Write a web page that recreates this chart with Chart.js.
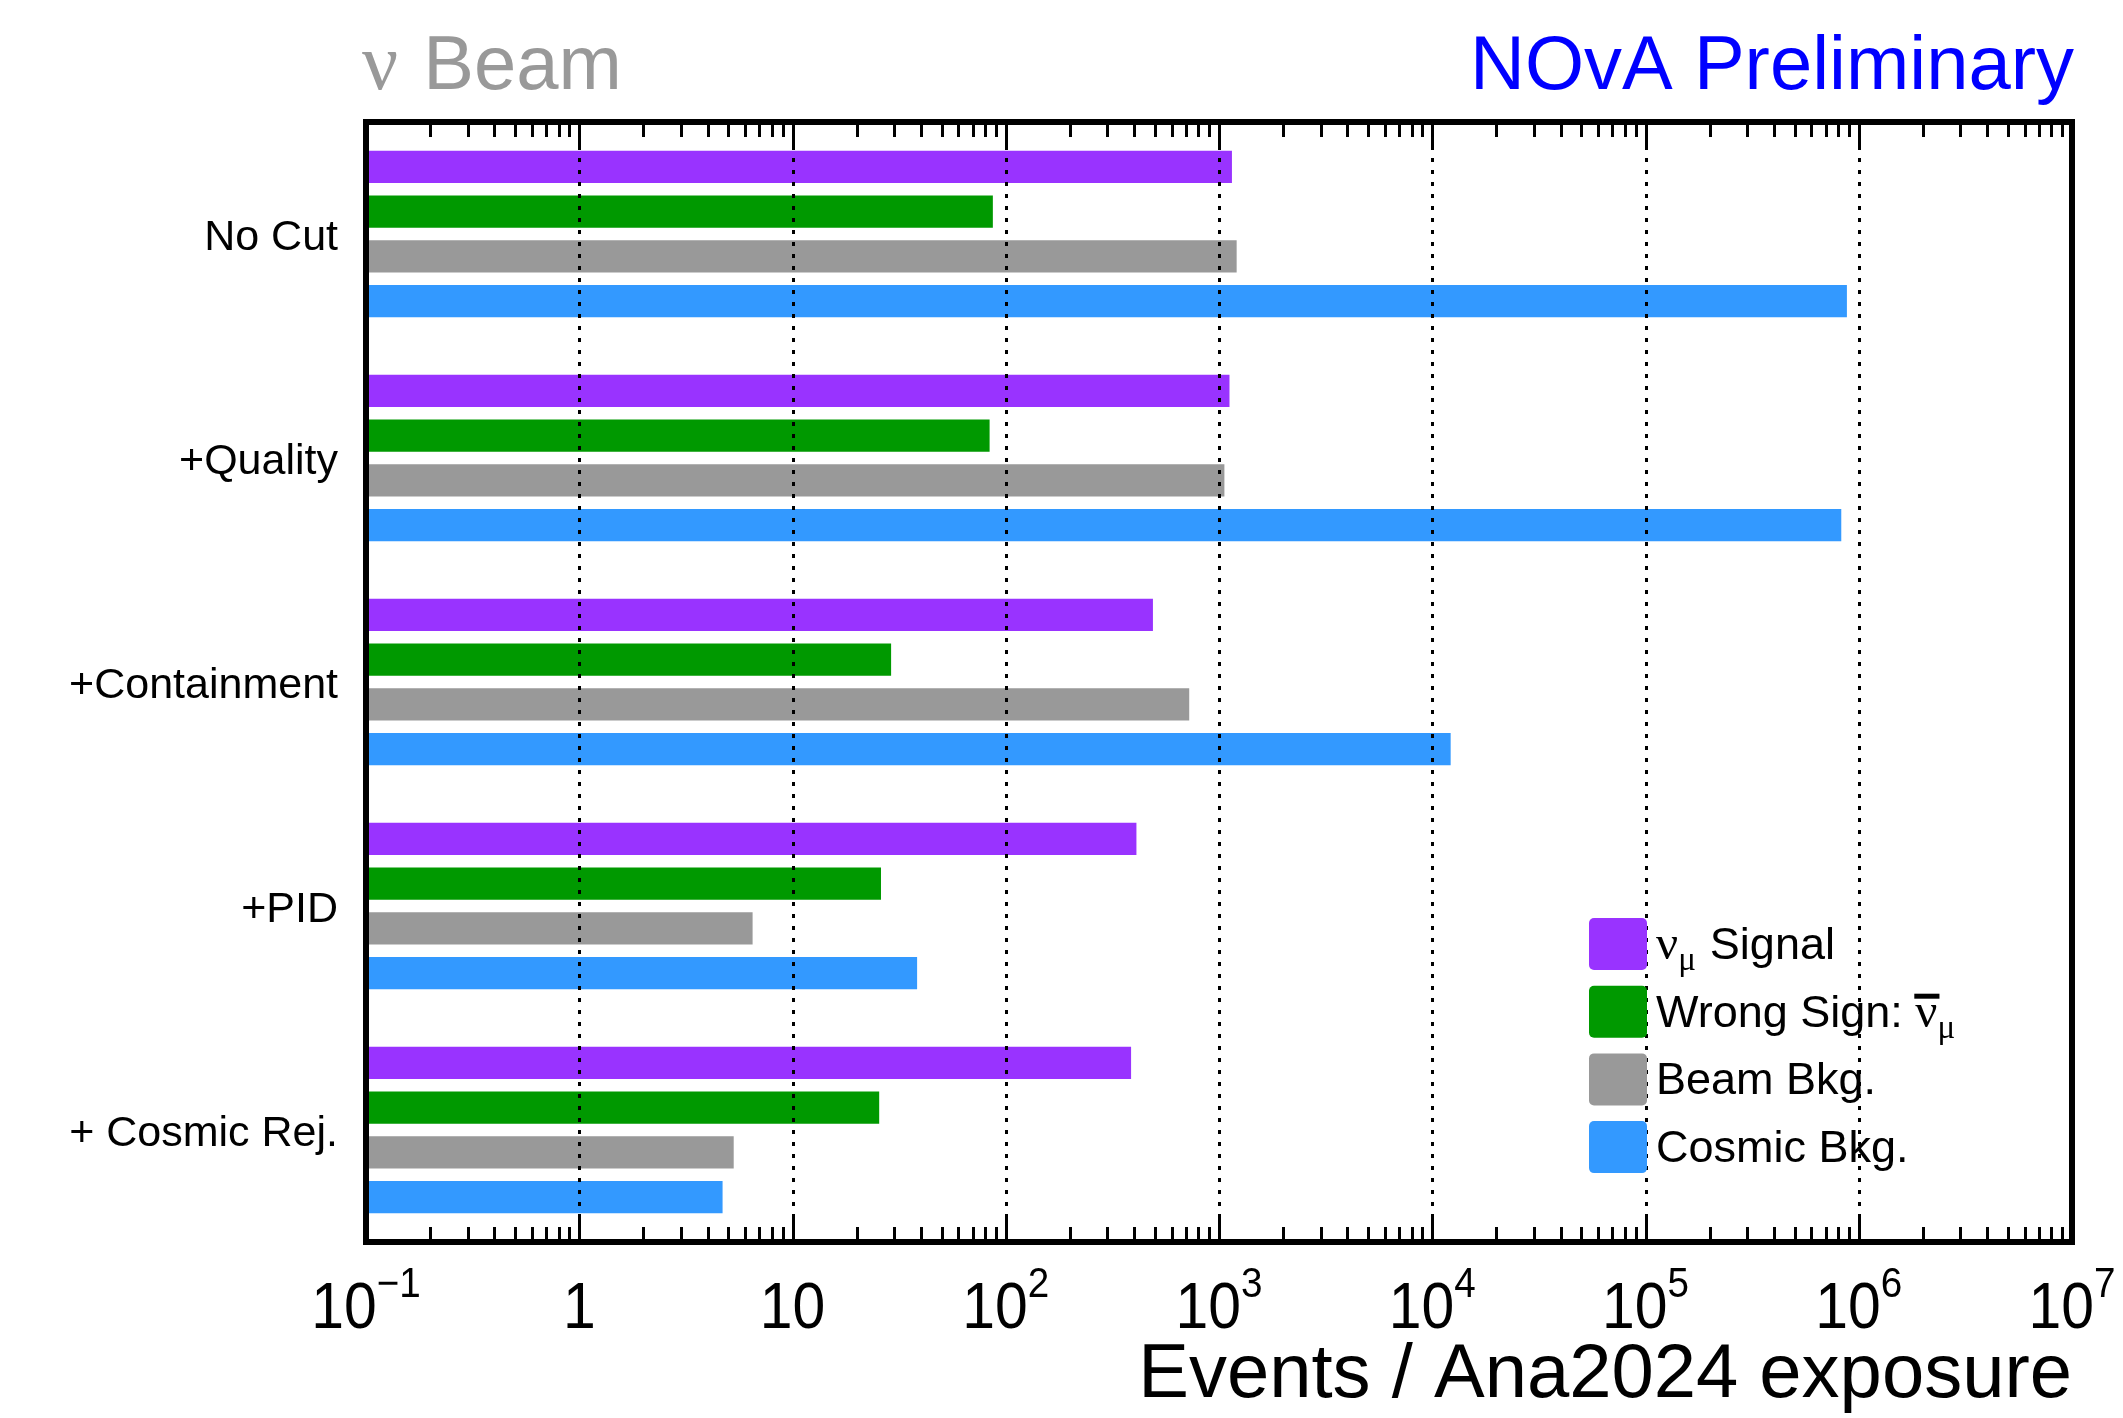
<!DOCTYPE html>
<html>
<head>
<meta charset="utf-8">
<script src="https://cdn.jsdelivr.net/npm/chart.js@4/dist/chart.umd.min.js"></script>
<style>
  html, body { margin: 0; padding: 0; background: #fff; overflow: hidden; }
  canvas { display: block; }
</style>
</head>
<body>
<canvas id="c" width="2123" height="1418" style="width:2123px;height:1418px"></canvas>
<script>
// Selection stages, top to bottom
const categories = ['No Cut', '+Quality', '+Containment', '+PID', '+ Cosmic Rej.'];

// Event counts per stage
const signalNumu = [1150, 1120, 490, 410, 387];
const wrongSign  = [87, 84, 29, 26, 25.5];
const beamBkg    = [1210, 1060, 725, 6.5, 5.3];
const cosmicBkg  = [880000, 828000, 12200, 38.4, 4.7];

// Decade tick labels: [mantissa text, exponent text or '']
const tickValues = [0.1, 1, 10, 100, 1e3, 1e4, 1e5, 1e6, 1e7];
const tickLabels = [['10', '\u22121'], ['1', ''], ['10', ''], ['10', '2'], ['10', '3'],
                    ['10', '4'], ['10', '5'], ['10', '6'], ['10', '7']];
const gridValues = [1, 10, 100, 1e3, 1e4, 1e5, 1e6];

const seriesColors = ['#9933ff', '#009900', '#999999', '#3399ff'];

const SANS = '"Liberation Sans", Arial, Helvetica, sans-serif';
const SERIF = '"Liberation Serif", "DejaVu Serif", serif';

// Draws a run of text pieces, each with its own font, vertical shift and
// optional overline; sx squeezes the run horizontally.
function drawRuns(ctx, runs, x, y, color, sx) {
  sx = sx || 1;
  ctx.save();
  ctx.translate(x, y);
  ctx.scale(sx, 1);
  ctx.fillStyle = color;
  ctx.textBaseline = 'alphabetic';
  ctx.textAlign = 'left';
  let cx = 0;
  for (const r of runs) {
    ctx.font = r.font;
    const w = ctx.measureText(r.text).width;
    ctx.fillText(r.text, cx, r.dy || 0);
    if (r.bar !== undefined) {
      ctx.fillRect(cx - 1, r.bar, w + 3, 5);
    }
    cx += w + (r.gap || 0);
  }
  ctx.restore();
  return cx * sx;
}

function runsWidth(ctx, runs, sx) {
  let w = 0;
  for (const r of runs) { ctx.font = r.font; w += ctx.measureText(r.text).width + (r.gap || 0); }
  return w * (sx || 1);
}

const framePlugin = {
  id: 'rootFrame',
  beforeDraw(chart) {
    const ctx = chart.ctx;
    ctx.save();
    ctx.fillStyle = '#ffffff';
    ctx.fillRect(0, 0, chart.width, chart.height);
    ctx.restore();
  },
  afterDatasetsDraw(chart) {
    const ctx = chart.ctx;
    const a = chart.chartArea;
    const xs = chart.scales.x;
    ctx.save();

    // dotted vertical grid at each decade
    ctx.strokeStyle = '#000';
    ctx.lineWidth = 3;
    ctx.setLineDash([4, 8]);
    for (const v of gridValues) {
      const px = Math.round(xs.getPixelForValue(v)) + 0.5;
      ctx.beginPath();
      ctx.moveTo(px, a.top);
      ctx.lineTo(px, a.bottom);
      ctx.stroke();
    }
    ctx.setLineDash([]);

    // major and minor ticks on bottom and top edges
    ctx.lineWidth = 3;
    for (let e = -1; e < 7; e++) {
      for (let m = 1; m <= 9; m++) {
        const v = m * Math.pow(10, e);
        const px = Math.round(xs.getPixelForValue(v)) + 0.5;
        const len = m === 1 ? 28 : 15;
        ctx.beginPath();
        ctx.moveTo(px, a.bottom);
        ctx.lineTo(px, a.bottom - len);
        ctx.moveTo(px, a.top);
        ctx.lineTo(px, a.top + len);
        ctx.stroke();
      }
    }

    // frame
    ctx.lineWidth = 6;
    ctx.strokeRect(a.left, a.top, a.right - a.left, a.bottom - a.top);
    ctx.restore();
  },
  afterDraw(chart) {
    const ctx = chart.ctx;
    const a = chart.chartArea;
    const xs = chart.scales.x;
    const ys = chart.scales.y;
    ctx.save();

    // stage labels, right-aligned left of the frame
    ctx.fillStyle = '#000';
    ctx.font = '43px ' + SANS;
    ctx.textAlign = 'right';
    ctx.textBaseline = 'alphabetic';
    categories.forEach((c, i) => {
      ctx.fillText(c, a.left - 28, ys.getPixelForValue(i) + 16);
    });

    // x tick labels (slightly condensed digits, superscript exponents)
    const tsx = 0.92;
    tickValues.forEach((v, i) => {
      const [base, exp] = tickLabels[i];
      const runs = [{ text: base, font: '64px ' + SANS }];
      if (exp) runs.push({ text: exp, font: '42px ' + SANS, dy: -31 });
      const w = runsWidth(ctx, runs, tsx);
      const px = xs.getPixelForValue(v);
      drawRuns(ctx, runs, px - w / 2, 1328, '#000', tsx);
    });

    // axis title
    ctx.fillStyle = '#000';
    ctx.font = '76px ' + SANS;
    ctx.textAlign = 'right';
    ctx.textBaseline = 'alphabetic';
    ctx.fillText('Events / Ana2024 exposure', a.right, 1397);

    // header texts
    drawRuns(ctx, [{ text: '\u03bd', font: '80px ' + SERIF, gap: 4 },
                   { text: ' Beam', font: '76px ' + SANS }], 362, 89, '#999999');
    ctx.fillStyle = '#0000ff';
    ctx.font = '76px ' + SANS;
    ctx.textAlign = 'right';
    ctx.fillText('NOvA Preliminary', a.right + 2, 89);

    // legend
    const legendRows = [
      [{ text: '\u03bd', font: '49px ' + SERIF }, { text: '\u03bc', font: '33px ' + SERIF, dy: 11, gap: 14 },
       { text: 'Signal', font: '45px ' + SANS }],
      [{ text: 'Wrong Sign: ', font: '45px ' + SANS }, { text: '\u03bd', font: '49px ' + SERIF, bar: -33 },
       { text: '\u03bc', font: '33px ' + SERIF, dy: 11 }],
      [{ text: 'Beam Bkg.', font: '45px ' + SANS }],
      [{ text: 'Cosmic Bkg.', font: '45px ' + SANS }]
    ];
    const boxX = 1589, boxW = 58, boxH = 52;
    legendRows.forEach((runs, i) => {
      const cy = 944 + i * 67.7;
      ctx.fillStyle = seriesColors[i];
      ctx.beginPath();
      ctx.roundRect(boxX, cy - boxH / 2, boxW, boxH, 5);
      ctx.fill();
      drawRuns(ctx, runs, 1656, cy + 15, '#000');
    });

    ctx.restore();
  }
};

new Chart(document.getElementById('c').getContext('2d'), {
  type: 'bar',
  data: {
    labels: categories,
    datasets: [
      { label: 'numu Signal', data: signalNumu, backgroundColor: seriesColors[0] },
      { label: 'Wrong Sign: anti-numu', data: wrongSign, backgroundColor: seriesColors[1] },
      { label: 'Beam Bkg.', data: beamBkg, backgroundColor: seriesColors[2] },
      { label: 'Cosmic Bkg.', data: cosmicBkg, backgroundColor: seriesColors[3] }
    ]
  },
  options: {
    indexAxis: 'y',
    responsive: false,
    animation: false,
    devicePixelRatio: 1,
    layout: { padding: { left: 366, right: 51, top: 122, bottom: 176 } },
    datasets: { bar: { categoryPercentage: 0.8, barPercentage: 0.72, borderWidth: 0 } },
    plugins: { legend: { display: false }, tooltip: { enabled: false }, title: { display: false } },
    scales: {
      x: { type: 'logarithmic', min: 0.1, max: 1e7, display: false },
      y: { type: 'category', display: false, offset: true }
    }
  },
  plugins: [framePlugin]
});
</script>
</body>
</html>
